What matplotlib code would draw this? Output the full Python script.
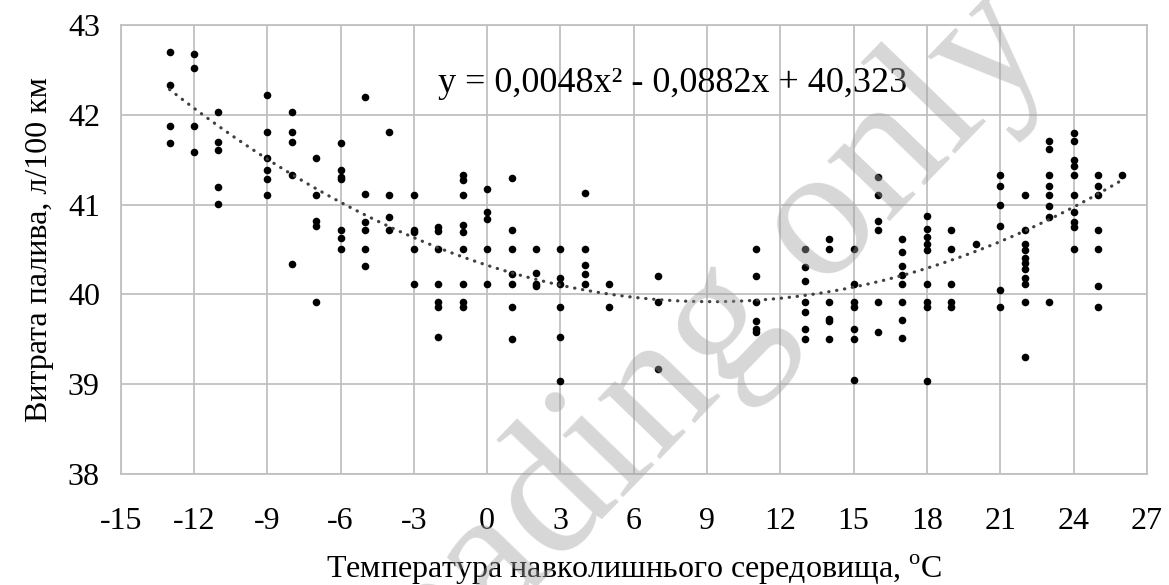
import numpy as np
import matplotlib

matplotlib.use("Agg")
import matplotlib.pyplot as plt

plt.rcParams["font.family"] = "serif"
plt.rcParams["font.serif"] = ["Liberation Serif", "DejaVu Serif"]
plt.rcParams["mathtext.fontset"] = "custom"
plt.rcParams["mathtext.rm"] = "Liberation Serif"
plt.rcParams["axes.unicode_minus"] = False

# Температура (°C) -> виміряні витрати палива (л/100 км)
temp_points = {
    -13: [42.70, 42.33, 41.88, 41.69],
    -12: [42.68, 42.52, 41.87, 41.59],
    -11: [42.03, 41.70, 41.61, 41.20, 41.01],
    -9: [42.22, 41.81, 41.52, 41.38, 41.28, 41.11],
    -8: [42.03, 41.81, 41.70, 41.33, 40.34],
    -7: [41.52, 41.11, 40.82, 40.76, 39.91],
    -6: [41.69, 41.39, 41.31, 41.28, 40.72, 40.63, 40.50],
    -5: [42.20, 41.12, 40.80, 40.72, 40.50, 40.32],
    -4: [41.81, 41.11, 40.86, 40.72],
    -3: [41.11, 40.72, 40.69, 40.50, 40.11],
    -2: [40.75, 40.71, 40.50, 40.12, 39.91, 39.86, 39.52],
    -1: [41.33, 41.27, 41.11, 40.77, 40.69, 40.50, 40.12, 39.91, 39.86],
    0: [41.17, 40.92, 40.84, 40.50, 40.12],
    1: [41.29, 40.72, 40.50, 40.23, 40.12, 39.86, 39.50],
    2: [40.50, 40.24, 40.12, 40.09],
    3: [40.50, 40.18, 40.11, 39.86, 39.52, 39.03],
    4: [41.13, 40.50, 40.33, 40.23, 40.12],
    5: [40.12, 39.86],
    7: [40.20, 39.91, 39.17],
    11: [40.50, 40.20, 39.91, 39.70, 39.61, 39.58],
    13: [40.50, 40.30, 40.15, 39.91, 39.80, 39.61, 39.50],
    14: [40.62, 40.50, 39.91, 39.73, 39.70, 39.50],
    15: [40.50, 40.11, 39.91, 39.86, 39.61, 39.50, 39.05],
    16: [41.31, 41.11, 40.82, 40.72, 39.91, 39.58],
    17: [40.62, 40.47, 40.31, 40.21, 40.12, 39.91, 39.71, 39.51],
    18: [40.87, 40.73, 40.64, 40.56, 40.49, 40.11, 39.91, 39.86, 39.03],
    19: [40.72, 40.50, 40.11, 39.91, 39.86],
    20: [40.56],
    21: [41.33, 41.21, 41.00, 40.76, 40.05, 39.86],
    22: [41.11, 40.72, 40.56, 40.49, 40.40, 40.35, 40.28, 40.18, 40.11, 39.91, 39.30],
    23: [41.71, 41.62, 41.33, 41.21, 41.11, 40.98, 40.86, 39.91],
    24: [41.80, 41.71, 41.50, 41.43, 41.33, 41.11, 40.92, 40.81, 40.75, 40.50],
    25: [41.33, 41.21, 41.11, 40.72, 40.50, 40.09, 39.86],
    26: [41.33],
}

# коефіцієнти поліноміального тренду
trend_coef = [0.0048, -0.0882, 40.323]
trend_label = "y = 0,0048x² - 0,0882x + 40,323"

x_ticks = list(range(-15, 28, 3))
y_ticks = [38, 39, 40, 41, 42, 43]

xs = []
ys = []
for t in temp_points:
    for v in temp_points[t]:
        xs.append(t)
        ys.append(v)

fig = plt.figure(figsize=(11.69, 5.85), dpi=100)
ax = fig.add_axes([0.1033, 0.19, 0.8777, 0.7673])

grid_c = "#c0c0c0"
ax.set_xlim(-15, 27)
ax.set_ylim(38, 43)
ax.set_xticks(x_ticks)
ax.set_yticks(y_ticks)
ax.grid(True, color=grid_c, linewidth=1.3)
ax.set_axisbelow(True)
for s in ax.spines.values():
    s.set_color(grid_c)
    s.set_linewidth(1.3)
ax.tick_params(length=0, labelsize=23)
ax.tick_params(axis="x", pad=24)
ax.tick_params(axis="y", pad=15)

ax.scatter(xs, ys, s=30, color="black", zorder=3, linewidths=0)

tx = np.linspace(min(xs), max(xs), 300)
ty = np.polyval(trend_coef, tx)
ax.plot(tx, ty, color="#404040", linewidth=2.3, linestyle=(0, (0.1, 2.4)),
        dash_capstyle="round", zorder=4)

ax.text(-2.0, 42.25, trend_label, fontsize=26, va="baseline", ha="left",
        zorder=5)

ax.set_xlabel(r"Температура навколишнього середовища, $^{\mathrm{o}}$C",
              fontsize=23)
ax.xaxis.set_label_coords(0.5, -0.175)
ax.set_ylabel("Витрата палива, л/100 км", fontsize=23)
ax.yaxis.set_label_coords(-0.065, 0.5)

fig.text(0.902, 0.915, "For reading only", fontsize=136, color="#a0a0a0",
         alpha=0.42, rotation=46, rotation_mode="anchor", ha="right",
         va="baseline", zorder=10)

fig.savefig("out.png", dpi=100)
